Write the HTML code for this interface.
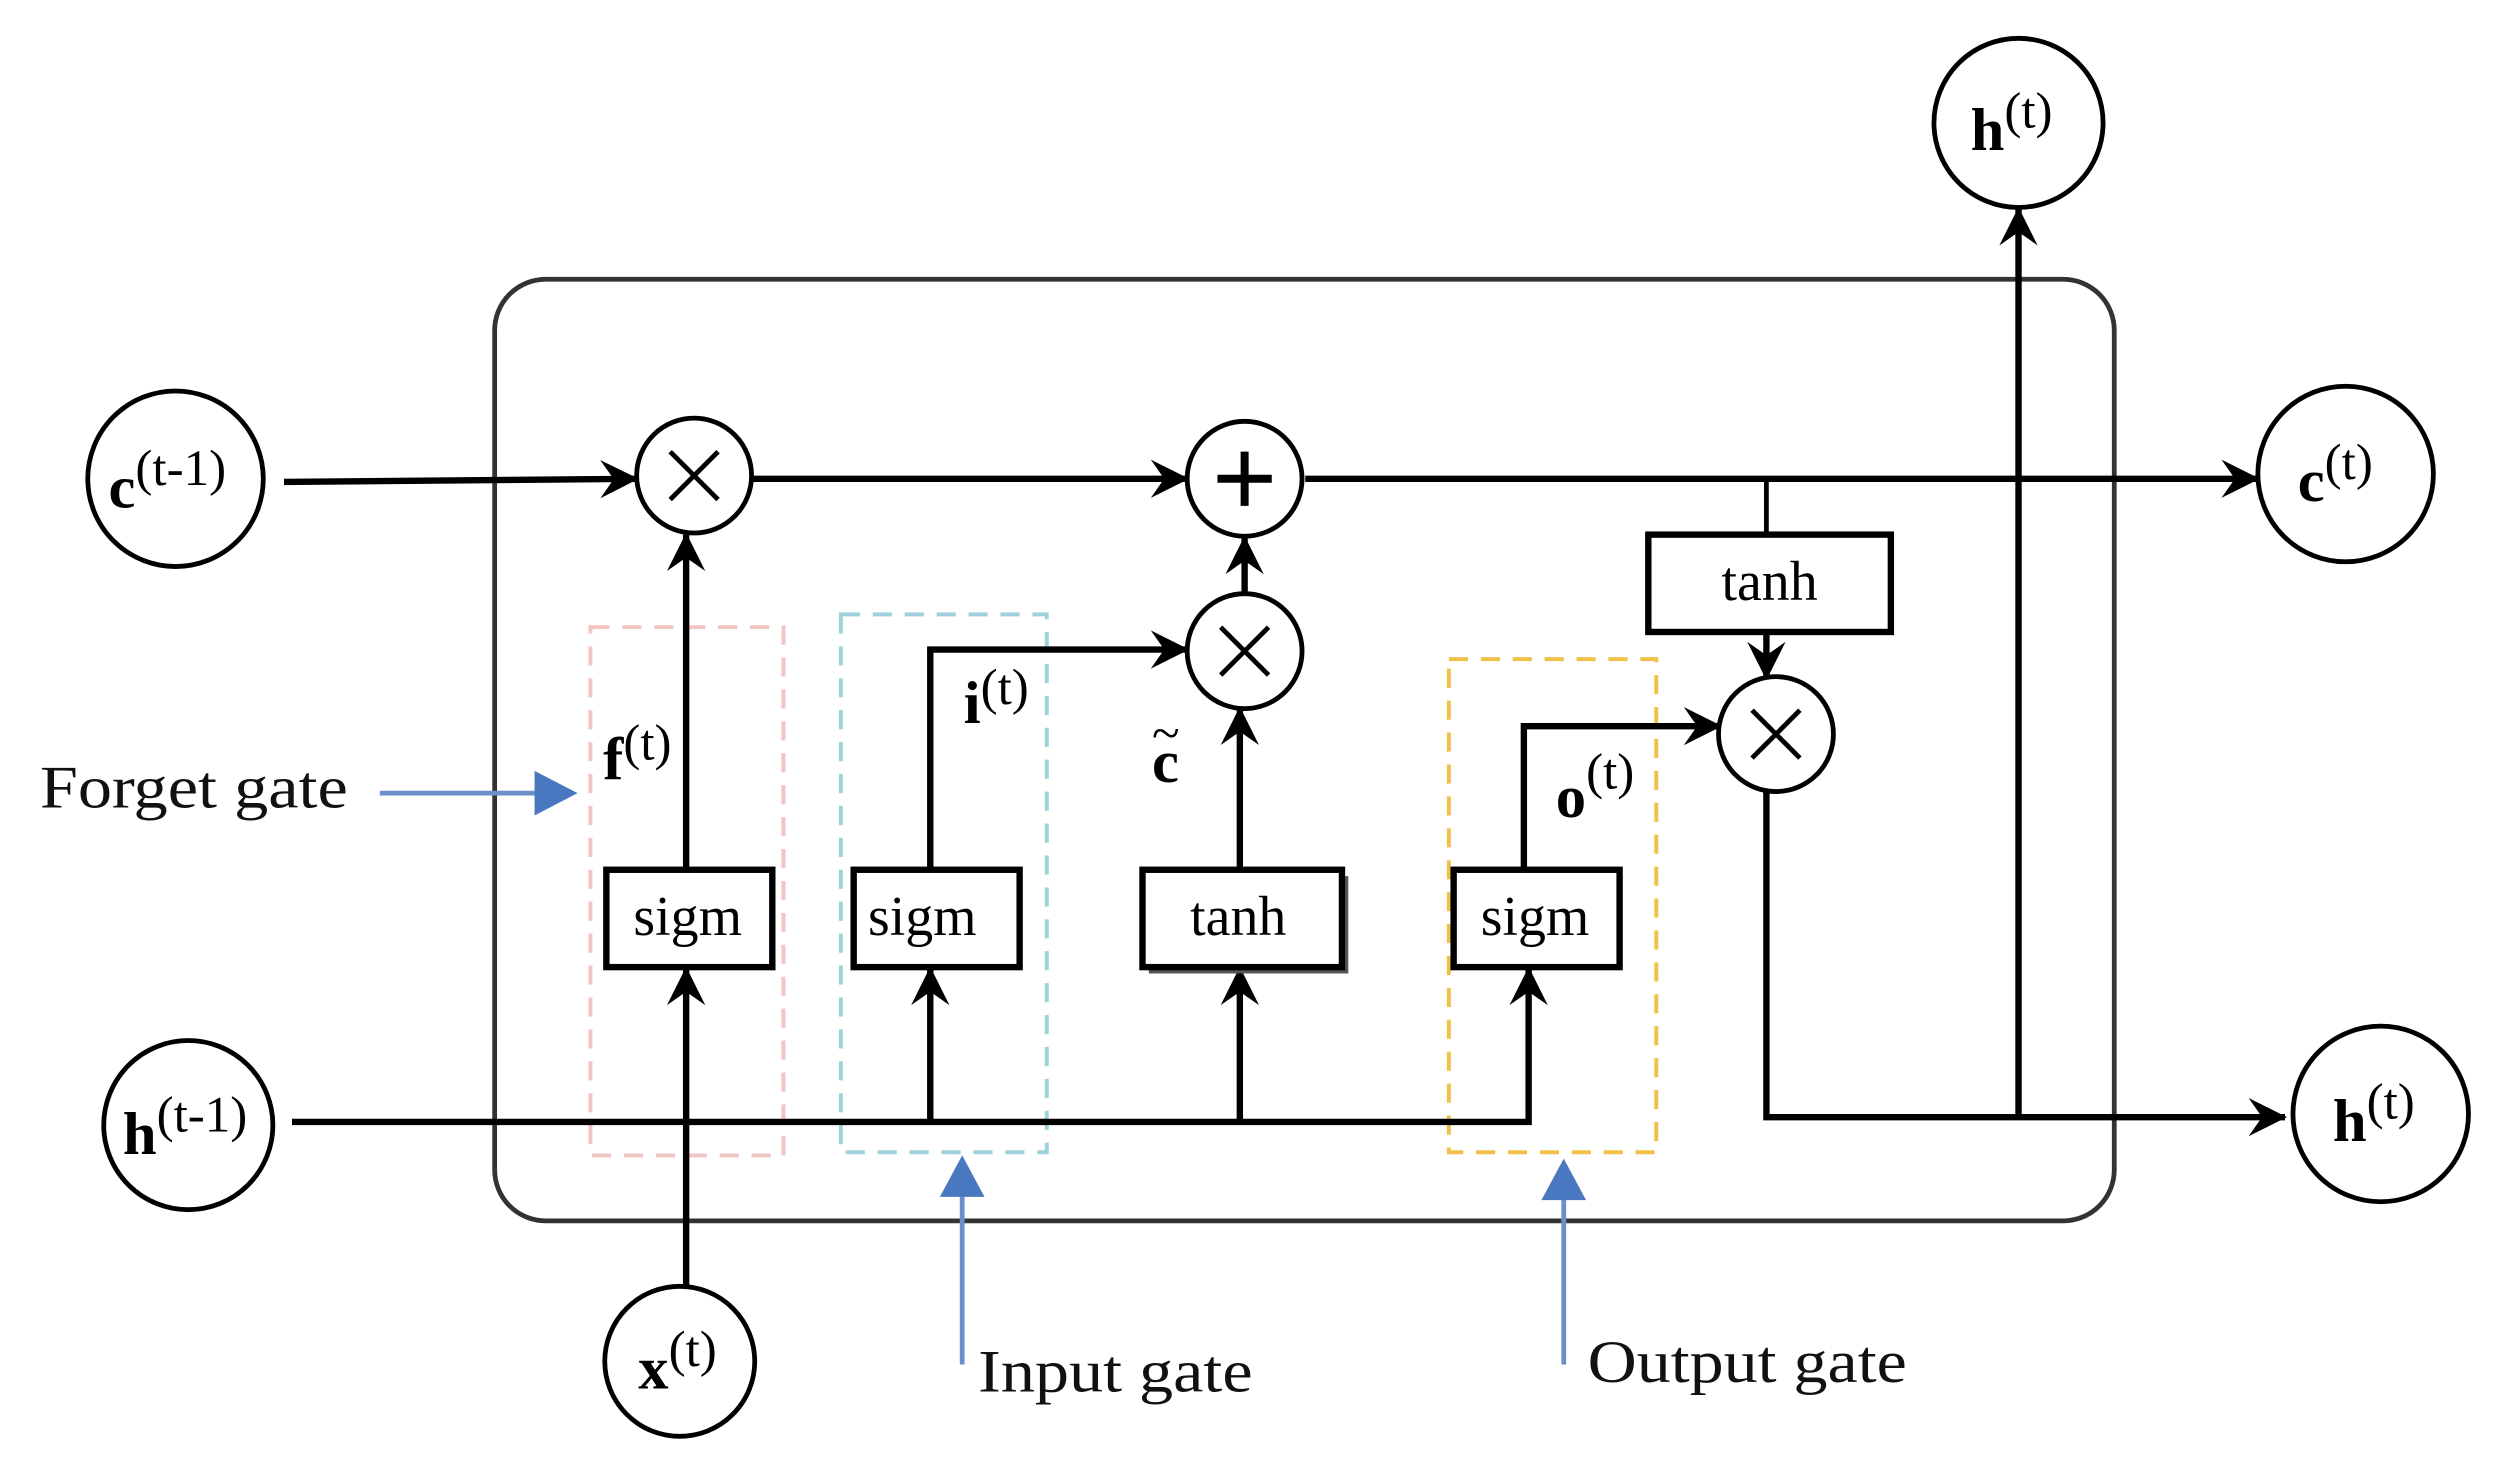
<!DOCTYPE html>
<html><head><meta charset="utf-8"><style>
html,body{margin:0;padding:0;background:#fff;}
svg{display:block;}
text{font-family:"Liberation Serif",serif;}
</style></head><body>
<svg width="2502" height="1481" viewBox="0 0 1568 928" preserveAspectRatio="none" xmlns="http://www.w3.org/2000/svg">
<defs>
<marker id="ak" viewBox="0 0 10 10" refX="9.5" refY="5" markerWidth="26" markerHeight="24" orient="auto" markerUnits="userSpaceOnUse"><path d="M0,0 L10,5 L0,10 L3.5,5 z" fill="#000"/></marker>
</defs>
<rect x="310" y="175" width="1015" height="590" rx="32" fill="none" stroke="#333" stroke-width="3"/>
<rect x="370" y="393" width="121" height="331" fill="none" stroke="#f2c4c4" stroke-width="2.5" stroke-dasharray="12,8"/>
<rect x="527" y="385" width="129" height="337" fill="none" stroke="#9fd2dc" stroke-width="2.5" stroke-dasharray="12,8"/>
<rect x="908" y="413" width="130" height="309" fill="none" stroke="#f1c04a" stroke-width="2.5" stroke-dasharray="12,8"/>
<g stroke="#000" stroke-width="4" fill="none">
<line x1="178" y1="302" x2="399" y2="300" marker-end="url(#ak)"/>
<line x1="471" y1="300" x2="744" y2="300" marker-end="url(#ak)"/>
<line x1="818" y1="300" x2="1415" y2="300" marker-end="url(#ak)"/>
<line x1="1107" y1="300" x2="1107" y2="335" stroke-width="3"/>
<line x1="1107" y1="396" x2="1107" y2="425" marker-end="url(#ak)"/>
<line x1="430" y1="806" x2="430" y2="607" marker-end="url(#ak)"/>
<line x1="430" y1="545" x2="430" y2="335" marker-end="url(#ak)"/>
<polyline points="183,703 958,703 958,607" marker-end="url(#ak)"/>
<line x1="583" y1="703" x2="583" y2="607" marker-end="url(#ak)"/>
<line x1="777" y1="703" x2="777" y2="607" marker-end="url(#ak)"/>
<polyline points="583,545 583,407 744,407" marker-end="url(#ak)"/>
<line x1="777" y1="545" x2="777" y2="444" marker-end="url(#ak)"/>
<line x1="780" y1="372" x2="780" y2="337" marker-end="url(#ak)"/>
<polyline points="955,545 955,455 1078,455" marker-end="url(#ak)"/>
<polyline points="1107,496 1107,700 1432,700" marker-end="url(#ak)"/>
<line x1="1265" y1="700" x2="1265" y2="131" marker-end="url(#ak)"/>
</g>
<g stroke="#000" stroke-width="3" fill="#fff">
<circle cx="435" cy="298" r="36"/>
<circle cx="780" cy="300" r="36"/>
<circle cx="780" cy="408" r="36"/>
<circle cx="1113" cy="460" r="36"/>
</g>
<g stroke="#000" stroke-width="3">
<line x1="420" y1="283" x2="450" y2="313"/><line x1="450" y1="283" x2="420" y2="313"/>
<line x1="765" y1="393" x2="795" y2="423"/><line x1="795" y1="393" x2="765" y2="423"/>
<line x1="1098" y1="445" x2="1128" y2="475"/><line x1="1128" y1="445" x2="1098" y2="475"/>
<line x1="763" y1="300" x2="797" y2="300" stroke-width="5"/><line x1="780" y1="283" x2="780" y2="317" stroke-width="5"/>
</g>
<rect x="720" y="549" width="125" height="61" fill="#555"/>
<g stroke="#000" stroke-width="4" fill="#fff">
<rect x="380" y="545" width="104" height="61"/>
<rect x="535" y="545" width="104" height="61"/>
<rect x="716" y="545" width="125" height="61"/>
<rect x="911" y="545" width="104" height="61"/>
<rect x="1033" y="335" width="152" height="61"/>
</g>
<g font-size="35" text-anchor="middle">
<text x="431" y="586">sigm</text>
<text x="578" y="586">sigm</text>
<text x="776" y="586">tanh</text>
<text x="962" y="586">sigm</text>
<text x="1109" y="376">tanh</text>
</g>
<g stroke="#000" stroke-width="3" fill="#fff">
<circle cx="110" cy="300" r="55"/>
<circle cx="118" cy="705" r="53"/>
<circle cx="426" cy="853" r="47"/>
<circle cx="1265" cy="77" r="53"/>
<circle cx="1470" cy="297" r="55"/>
<circle cx="1492" cy="698" r="55"/>
</g>
<g font-size="38">
<text x="68" y="318"><tspan font-weight="bold">c</tspan><tspan font-size="32" dy="-14">(t-1)</tspan></text>
<text x="77" y="723"><tspan font-weight="bold">h</tspan><tspan font-size="32" dy="-14">(t-1)</tspan></text>
<text x="400" y="870"><tspan font-weight="bold">x</tspan><tspan font-size="32" dy="-14">(t)</tspan></text>
<text x="1235" y="94"><tspan font-weight="bold">h</tspan><tspan font-size="32" dy="-14">(t)</tspan></text>
<text x="1440" y="314"><tspan font-weight="bold">c</tspan><tspan font-size="32" dy="-14">(t)</tspan></text>
<text x="1462" y="715"><tspan font-weight="bold">h</tspan><tspan font-size="32" dy="-14">(t)</tspan></text>
<text x="378" y="488"><tspan font-weight="bold">f</tspan><tspan font-size="32" dy="-12">(t)</tspan></text>
<text x="604" y="453"><tspan font-weight="bold">i</tspan><tspan font-size="32" dy="-12">(t)</tspan></text>
<text x="722" y="490" font-weight="bold">c</text>
<text x="722" y="470" font-size="32">~</text>
<text x="975" y="512"><tspan font-weight="bold">o</tspan><tspan font-size="32" dy="-18">(t)</tspan></text>
</g>
<g stroke="#6a8fcb" stroke-width="3" fill="#4a78c0">
<line x1="238" y1="497" x2="338" y2="497"/>
<path d="M335,483 L362,497 L335,511 z" stroke="none"/>
<line x1="603" y1="855" x2="603" y2="748"/>
<path d="M589,750 L603,724 L617,750 z" stroke="none"/>
<line x1="980" y1="855" x2="980" y2="750"/>
<path d="M966,752 L980,726 L994,752 z" stroke="none"/>
</g>
<g font-size="38" fill="#111">
<text x="25" y="506" textLength="193" lengthAdjust="spacingAndGlyphs">Forget gate</text>
<text x="613" y="872" textLength="172" lengthAdjust="spacingAndGlyphs">Input gate</text>
<text x="995" y="866" textLength="200" lengthAdjust="spacingAndGlyphs">Output gate</text>
</g>
</svg>
</body></html>
